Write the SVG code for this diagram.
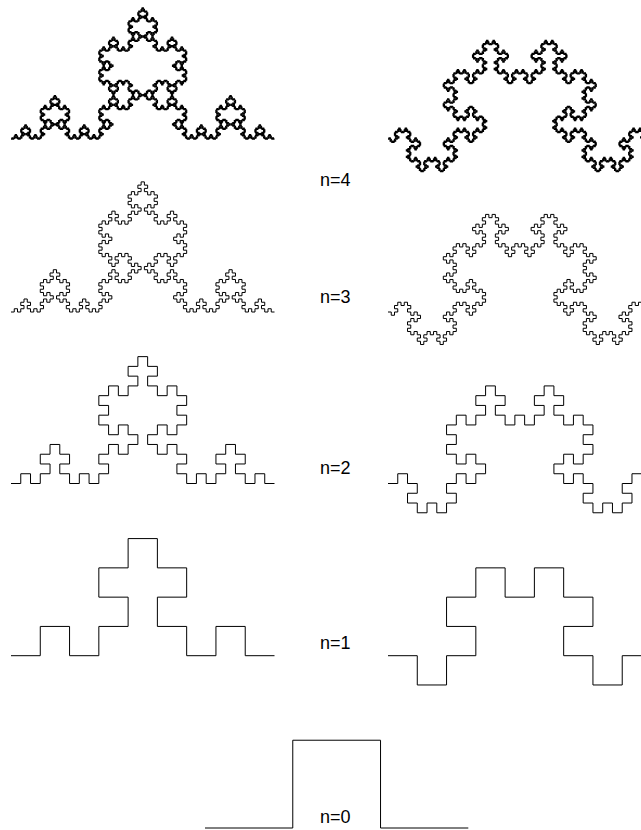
<svg xmlns="http://www.w3.org/2000/svg" xmlns:xlink="http://www.w3.org/1999/xlink" width="641" height="830" viewBox="0 0 641 830">
<style>
.c{fill:none;stroke:#000;vector-effect:non-scaling-stroke}
g.curve{stroke-width:1}
g.dense{stroke-width:1.3}
text{font-family:"Liberation Sans",Arial,sans-serif;font-size:18px;fill:#000}
</style>
<defs>
<path id="g1" class="c" vector-effect="non-scaling-stroke" d="M0,0H0.333333V-0.333333H0.666667V0H1"/>
<g id="a2"><use href="#g1" transform="scale(0.333333)"/><use href="#g1" transform="translate(0.333333,0) rotate(-90) scale(0.333333,-0.333333)"/><use href="#g1" transform="translate(0.333333,-0.333333) scale(0.333333)"/><use href="#g1" transform="translate(0.666667,-0.333333) rotate(90) scale(0.333333,-0.333333)"/><use href="#g1" transform="translate(0.666667,0) scale(0.333333)"/></g>
<g id="a3"><use href="#a2" transform="scale(0.333333)"/><use href="#a2" transform="translate(0.333333,0) rotate(-90) scale(0.333333,-0.333333)"/><use href="#a2" transform="translate(0.333333,-0.333333) scale(0.333333)"/><use href="#a2" transform="translate(0.666667,-0.333333) rotate(90) scale(0.333333,-0.333333)"/><use href="#a2" transform="translate(0.666667,0) scale(0.333333)"/></g>
<g id="a4"><use href="#a3" transform="scale(0.333333)"/><use href="#a3" transform="translate(0.333333,0) rotate(-90) scale(0.333333,-0.333333)"/><use href="#a3" transform="translate(0.333333,-0.333333) scale(0.333333)"/><use href="#a3" transform="translate(0.666667,-0.333333) rotate(90) scale(0.333333,-0.333333)"/><use href="#a3" transform="translate(0.666667,0) scale(0.333333)"/></g>
<g id="a5"><use href="#a4" transform="scale(0.333333)"/><use href="#a4" transform="translate(0.333333,0) rotate(-90) scale(0.333333,-0.333333)"/><use href="#a4" transform="translate(0.333333,-0.333333) scale(0.333333)"/><use href="#a4" transform="translate(0.666667,-0.333333) rotate(90) scale(0.333333,-0.333333)"/><use href="#a4" transform="translate(0.666667,0) scale(0.333333)"/></g>
<g id="b2"><use href="#g1" transform="scale(0.333333,-0.333333)"/><use href="#g1" transform="translate(0.333333,0) rotate(-90) scale(0.333333)"/><use href="#g1" transform="translate(0.333333,-0.333333) scale(0.333333,-0.333333)"/><use href="#g1" transform="translate(0.666667,-0.333333) rotate(90) scale(0.333333)"/><use href="#g1" transform="translate(0.666667,0) scale(0.333333,-0.333333)"/></g>
<g id="b3"><use href="#b2" transform="scale(0.333333,-0.333333)"/><use href="#b2" transform="translate(0.333333,0) rotate(-90) scale(0.333333)"/><use href="#b2" transform="translate(0.333333,-0.333333) scale(0.333333,-0.333333)"/><use href="#b2" transform="translate(0.666667,-0.333333) rotate(90) scale(0.333333)"/><use href="#b2" transform="translate(0.666667,0) scale(0.333333,-0.333333)"/></g>
<g id="b4"><use href="#b3" transform="scale(0.333333,-0.333333)"/><use href="#b3" transform="translate(0.333333,0) rotate(-90) scale(0.333333)"/><use href="#b3" transform="translate(0.333333,-0.333333) scale(0.333333,-0.333333)"/><use href="#b3" transform="translate(0.666667,-0.333333) rotate(90) scale(0.333333)"/><use href="#b3" transform="translate(0.666667,0) scale(0.333333,-0.333333)"/></g>
<g id="b5"><use href="#b4" transform="scale(0.333333,-0.333333)"/><use href="#b4" transform="translate(0.333333,0) rotate(-90) scale(0.333333)"/><use href="#b4" transform="translate(0.333333,-0.333333) scale(0.333333,-0.333333)"/><use href="#b4" transform="translate(0.666667,-0.333333) rotate(90) scale(0.333333)"/><use href="#b4" transform="translate(0.666667,0) scale(0.333333,-0.333333)"/></g>
</defs>
<rect width="641" height="830" fill="#fff"/>
<g id="curve-n4-left" class="dense"><use href="#a5" transform="translate(11,139) scale(263.5)"/></g>
<g id="curve-n4-right" class="dense"><use href="#b5" transform="translate(388,139) scale(263.5)"/></g>
<g id="curve-n3-left" class="curve"><use href="#a4" transform="translate(11,312) scale(263.5)"/></g>
<g id="curve-n3-right" class="curve"><use href="#b4" transform="translate(388,312) scale(263.5)"/></g>
<g id="curve-n2-left" class="curve"><use href="#a3" transform="translate(11,483.5) scale(263.5)"/></g>
<g id="curve-n2-right" class="curve"><use href="#b3" transform="translate(388,483.5) scale(263.5)"/></g>
<g id="curve-n1-left" class="curve"><use href="#a2" transform="translate(11,655.7) scale(263.5)"/></g>
<g id="curve-n1-right" class="curve"><use href="#b2" transform="translate(388,655.7) scale(263.5)"/></g>
<g id="curve-n0" class="curve"><use href="#g1" transform="translate(205,828) scale(263.3)"/></g>
<g id="labels">
<text x="320" y="186">n=4</text>
<text x="320" y="303">n=3</text>
<text x="320" y="473.7">n=2</text>
<text x="320" y="649">n=1</text>
<text x="320" y="823.3">n=0</text>
</g>
</svg>
